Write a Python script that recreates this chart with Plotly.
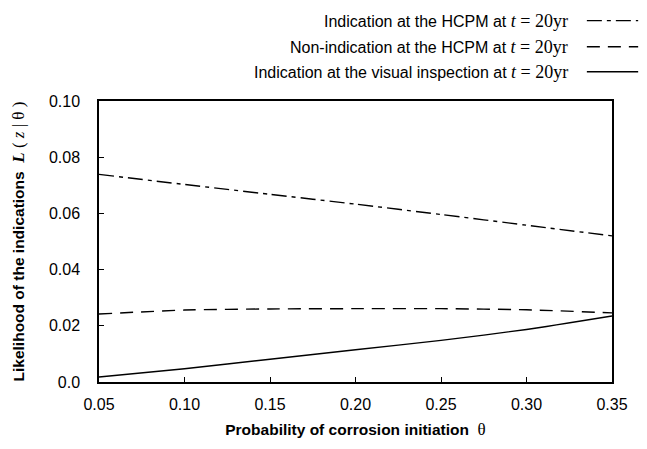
import plotly.graph_objects as go

theta = [0.05, 0.10, 0.15, 0.20, 0.25, 0.30, 0.35]
hcpm_indication = [0.0739, 0.0703, 0.0668, 0.0633, 0.0596, 0.0558, 0.0520]
hcpm_non_indication = [0.0242, 0.0256, 0.0260, 0.0261, 0.0261, 0.0257, 0.0246]
visual_indication = [0.0018, 0.0047, 0.0081, 0.0115, 0.0148, 0.0187, 0.0235]

x_ticks = [0.05, 0.10, 0.15, 0.20, 0.25, 0.30, 0.35]
x_ticklabels = ["0.05", "0.10", "0.15", "0.20", "0.25", "0.30", "0.35"]
y_ticks = [0.0, 0.02, 0.04, 0.06, 0.08, 0.10]
y_ticklabels = ["0.0", "0.02", "0.04", "0.06", "0.08", "0.10"]

SANS = "Liberation Sans, Arial, Helvetica, sans-serif"

tail = "<span style='font-family:Liberation Serif;font-size:18px'><i>t</i> = 20yr</span>"
labels = [
    "Indication at the HCPM at " + tail,
    "Non-indication at the HCPM at " + tail,
    "Indication at the visual inspection at " + tail,
]
series = [hcpm_indication, hcpm_non_indication, visual_indication]
dashes = ["15px,5px,4px,5px", "13px,8px", "solid"]

fig = go.Figure()
for ys, d, lab in zip(series, dashes, labels):
    fig.add_trace(go.Scatter(x=theta, y=ys, mode="lines", name=lab,
                             line=dict(color="black", width=1.4, dash=d, shape="spline", smoothing=0.6),
                             showlegend=False))

# legend drawn manually: text on the left, line sample on the right
rows_y = [1.286, 1.193, 1.104]
for lab, d, yy in zip(labels, dashes, rows_y):
    fig.add_annotation(xref="paper", yref="paper", x=0.918, y=yy, text=lab, showarrow=False,
                       xanchor="right", yanchor="middle", font=dict(family=SANS, size=16, color="black"))
    fig.add_shape(type="line", xref="paper", yref="paper", x0=0.951, x1=1.051, y0=yy, y1=yy,
                  line=dict(color="black", width=1.4, dash=d))

fig.update_xaxes(range=[0.05, 0.35], tickvals=x_ticks, ticktext=x_ticklabels,
                 ticks="inside", ticklen=5, tickcolor="black", showline=True, linecolor="black",
                 linewidth=1.5, mirror=True, showgrid=False, zeroline=False,
                 ticklabelstandoff=7,
                 tickfont=dict(family=SANS, size=16, color="black"),
                 title=dict(text="<b>Probability of corrosion initiation</b>  <span style='font-family:Liberation Serif;font-size:17px'>θ</span>",
                            font=dict(family=SANS, size=15.5, color="black"), standoff=12))
fig.update_yaxes(range=[0, 0.10], tickvals=y_ticks, ticktext=y_ticklabels,
                 ticks="inside", ticklen=5, tickcolor="black", showline=True, linecolor="black",
                 linewidth=1.5, mirror=True, showgrid=False, zeroline=False,
                 ticklabelstandoff=14,
                 tickfont=dict(family=SANS, size=16, color="black"),
                 title=dict(text="<b>Likelihood of the indications</b>  <span style='font-family:Liberation Serif;font-size:17px'><b><i>L</i></b> ( <i>z</i> | θ )</span>",
                            font=dict(family=SANS, size=15.5, color="black"), standoff=20))

fig.update_layout(width=647, height=449, margin=dict(l=99, r=35, t=101, b=67),
                  paper_bgcolor="white", plot_bgcolor="white", showlegend=False)

fig.write_html("out.html")
